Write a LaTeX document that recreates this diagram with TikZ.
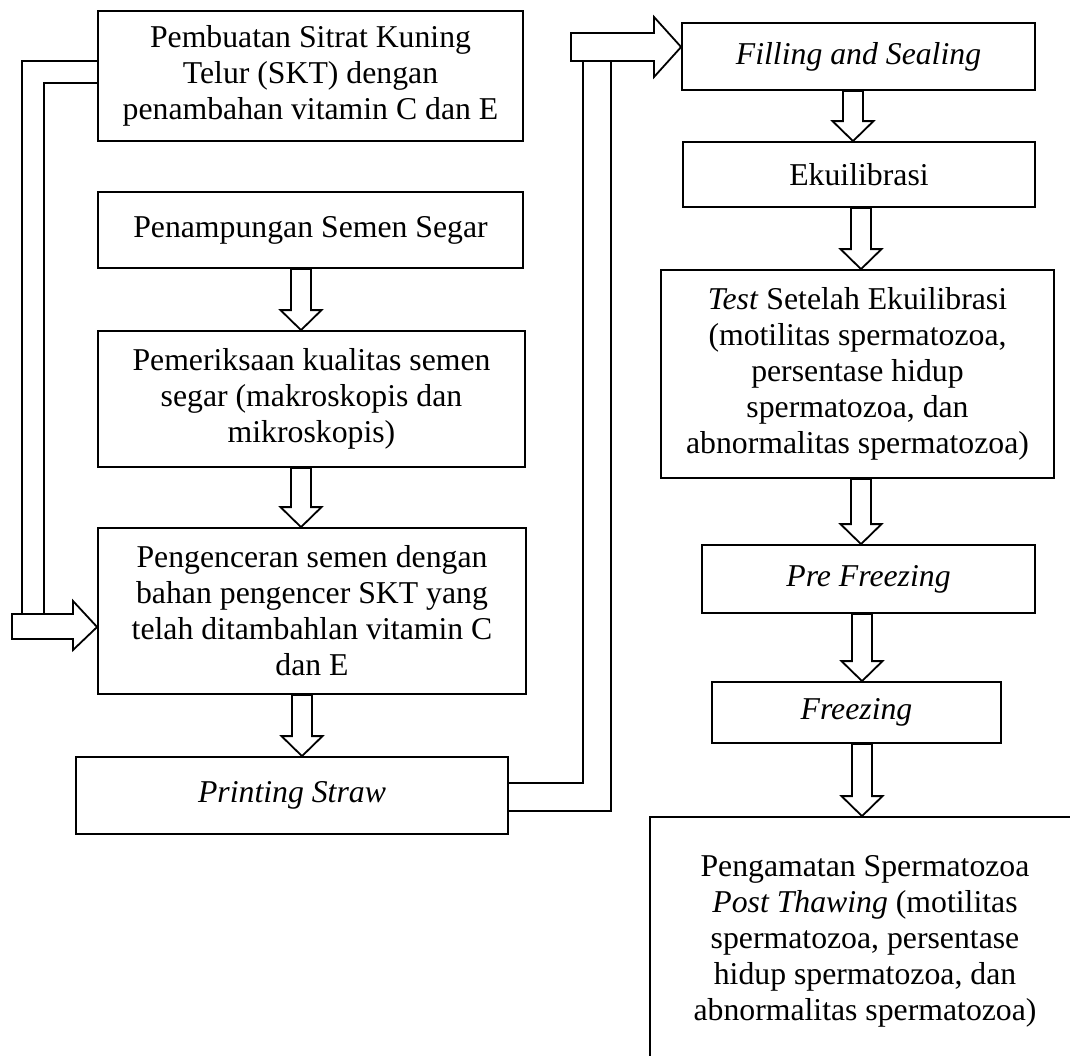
\documentclass[tikz,border=0pt]{standalone}
\usepackage{fontspec}
\setmainfont{Liberation Serif}
\usetikzlibrary{calc}
\newcommand\blkdown[3]{%
 \draw[blk] ($(#1,0 |- #2.south)+(-10,0)$) -- ($(#1,0 |- #3.north)+(-10,-20)$) -- ($(#1,0 |- #3.north)+(-20.5,-20)$) -- (#1,0 |- #3.north) -- ($(#1,0 |- #3.north)+(20.5,-20)$) -- ($(#1,0 |- #3.north)+(10,-20)$) -- ($(#1,0 |- #2.south)+(10,0)$) -- cycle;}
\begin{document}
\begin{tikzpicture}[x=1pt,y=-1pt,
  box/.style={draw,line width=1.8pt,inner sep=0pt,align=center,font=\fontsize{31.75}{36}\selectfont},
  blk/.style={draw,line width=1.8pt,fill=white,line join=miter},
  conn/.style={draw,line width=1.8pt,line join=miter}]
\useasboundingbox (0,0) rectangle (1070,1055);
\clip (0,0) rectangle (1070,1055);
\fill[white] (0,0) rectangle (1070,1055);
% left column
\node[box,minimum width=425pt,minimum height=130pt] (b1) at (310.5,76) {Pembuatan Sitrat Kuning\\Telur (SKT) dengan\\penambahan vitamin C dan E};
\node[box,minimum width=425pt,minimum height=76pt] (b2) at (310.5,230) {Penampungan Semen Segar};
\node[box,minimum width=427pt,minimum height=136pt] (b3) at (311.5,399) {Pemeriksaan kualitas semen\\segar (makroskopis dan\\mikroskopis)};
\node[box,minimum width=428pt,minimum height=166pt] (b4) at (312,611) {Pengenceran semen dengan\\bahan pengencer SKT yang\\telah ditambahlan vitamin C\\dan E};
\node[box,minimum width=432pt,minimum height=77pt] (ps) at (292,795.5) {\textit{Printing Straw}};
% right column
\node[box,minimum width=353pt,minimum height=67pt] (fs) at (858.5,56.5) {\textit{Filling and Sealing}};
\node[box,minimum width=352pt,minimum height=65pt] (ek) at (859,174.5) {Ekuilibrasi};
\node[box,minimum width=393pt,minimum height=208pt] (ts) at (857.5,374) {\textit{Test} Setelah Ekuilibrasi\\(motilitas spermatozoa,\\persentase hidup\\spermatozoa, dan\\abnormalitas spermatozoa)};
\node[box,minimum width=333pt,minimum height=68pt] (pf) at (868.5,579) {\textit{Pre Freezing}};
\node[box,minimum width=289pt,minimum height=61pt] (fr) at (856.5,712.5) {\textit{Freezing}};
\node[box,minimum width=430pt,minimum height=248pt] (la) at (865,941) {Pengamatan Spermatozoa\\\textit{Post Thawing} (motilitas\\spermatozoa, persentase\\hidup spermatozoa, dan\\abnormalitas spermatozoa)};
% down block arrows
\blkdown{301}{b2}{b3}
\blkdown{301}{b3}{b4}
\blkdown{302}{b4}{ps}
\blkdown{853}{fs}{ek}
\blkdown{861}{ek}{ts}
\blkdown{861}{ts}{pf}
\blkdown{862}{pf}{fr}
\blkdown{862}{fr}{la}
% left feed connector: b1 -> b4
\coordinate (la1) at (22,614);
\coordinate (la2) at (44,614);
\draw[conn] (b1.west |- 0,61) -| (la1);
\draw[conn] (b1.west |- 0,83) -| (la2);
\draw[blk] (12,614) -- (73,614) -- (73,601) -- (b4.west |- 0,627) -- (73,650) -- (73,639) -- (12,639) -- cycle;
% right feed connector: ps -> fs
\coordinate (ra1) at (583,61);
\coordinate (ra2) at (611,61);
\draw[conn] (ps.east |- 0,783) -| (ra1);
\draw[conn] (ps.east |- 0,811) -| (ra2);
\draw[blk] (571,33) -- (654,33) -- (654,17) -- (fs.west |- 0,47) -- (654,77) -- (654,61) -- (571,61) -- cycle;
\end{tikzpicture}
\end{document}
